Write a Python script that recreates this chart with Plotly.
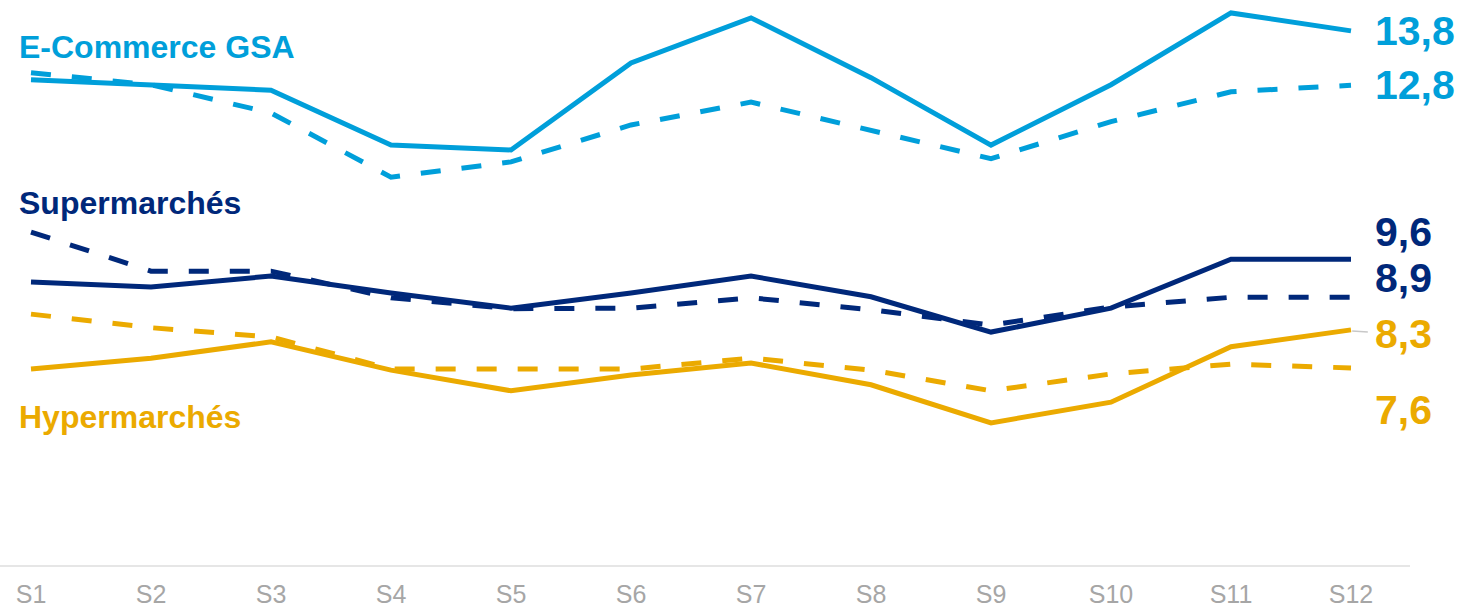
import plotly.graph_objects as go

weeks = ["S1", "S2", "S3", "S4", "S5", "S6", "S7", "S8", "S9", "S10", "S11", "S12"]

ecom_solid = [12.90, 12.81, 12.71, 11.70, 11.61, 13.21, 14.04, 12.94, 11.70, 12.81, 14.13, 13.80]
ecom_dash = [13.03, 12.81, 12.29, 11.11, 11.39, 12.07, 12.49, 11.98, 11.45, 12.13, 12.68, 12.80]
super_solid = [9.18, 9.09, 9.29, 8.98, 8.70, 8.98, 9.29, 8.91, 8.26, 8.70, 9.60, 9.60]
super_dash = [10.10, 9.38, 9.38, 8.89, 8.69, 8.70, 8.89, 8.67, 8.39, 8.72, 8.90, 8.90]
hyper_solid = [7.58, 7.78, 8.08, 7.56, 7.18, 7.47, 7.69, 7.29, 6.59, 6.97, 7.99, 8.30]
hyper_dash = [8.59, 8.34, 8.17, 7.58, 7.58, 7.58, 7.78, 7.56, 7.18, 7.49, 7.67, 7.60]

series_names = ["E-Commerce GSA", "Supermarchés", "Hypermarchés"]

BLUE = "#009fda"
NAVY = "#00287a"
GOLD = "#ebaa00"
FONT = "Liberation Sans, Arial, sans-serif"

W, H = 1460, 609
ML, MR, MT, MB = 0, 50, 1, 44

x = list(range(len(weeks)))
fig = go.Figure()

traces = [
    (ecom_dash, BLUE, "20px,21px", series_names[0] + " (pointillé)"),
    (ecom_solid, BLUE, "solid", series_names[0]),
    (super_dash, NAVY, "20px,21px", series_names[1] + " (pointillé)"),
    (super_solid, NAVY, "solid", series_names[1]),
    (hyper_dash, GOLD, "20px,21px", series_names[2] + " (pointillé)"),
    (hyper_solid, GOLD, "solid", series_names[2]),
]
for vals, col, dash, name in traces:
    fig.add_trace(go.Scatter(
        x=x, y=vals, mode="lines", name=name,
        line=dict(color=col, width=5, dash=dash),
        hoverinfo="skip", showlegend=False,
    ))

annotations = []
plot_h = H - MT - MB
plot_w = W - ML - MR
name_pos = [(series_names[0], BLUE, 47), (series_names[1], NAVY, 203), (series_names[2], GOLD, 417)]
for txt, col, yc in name_pos:
    annotations.append(dict(
        text=f"<b>{txt}</b>", xref="paper", yref="paper",
        x=17 / plot_w, y=(H - MB - yc) / plot_h,
        xanchor="left", yanchor="middle", showarrow=False,
        font=dict(family=FONT, size=32, color=col),
    ))

def fmt(v):
    return f"{v:.1f}".replace(".", ",")

end_labels = [
    (ecom_solid[-1], BLUE, 0),
    (ecom_dash[-1], BLUE, 0),
    (super_solid[-1], NAVY, 27),
    (super_dash[-1], NAVY, 19),
    (hyper_solid[-1], GOLD, -4),
    (hyper_dash[-1], GOLD, -42),
]
for v, col, ys in end_labels:
    annotations.append(dict(
        text=f"<b>{fmt(v)}</b>", xref="paper", yref="y",
        x=1373 / plot_w, y=v, yshift=ys,
        xanchor="left", yanchor="middle", showarrow=False,
        font=dict(family=FONT, size=41, color=col),
    ))

fig.update_layout(
    width=W, height=H,
    margin=dict(l=ML, r=MR, t=MT, b=MB, pad=0, autoexpand=False),
    paper_bgcolor="white", plot_bgcolor="white",
    annotations=annotations,
    shapes=[dict(
        type="line", xref="x", yref="y",
        x0=11.01, x1=11.14, y0=hyper_solid[-1] - 0.02, y1=hyper_solid[-1] - 0.04,
        line=dict(color="#c8c8c8", width=1.5),
    )],
    font=dict(family=FONT),
)
fig.update_xaxes(
    automargin=False,
    range=[-31 / 120, (plot_w - 31) / 120],
    tickmode="array", tickvals=x, ticktext=weeks,
    showgrid=False, zeroline=False,
    showline=True, linecolor="#e6e6e6", linewidth=2,
    ticks="outside", ticklen=6, tickcolor="rgba(0,0,0,0)",
    tickfont=dict(family=FONT, size=25, color="#a6a6a6"),
)
fig.update_yaxes(
    automargin=False,
    range=[3.975, 14.35], visible=False, showgrid=False, zeroline=False,
)

fig.write_html("out.html", config={"displayModeBar": False},
               post_script="document.body.style.margin='0';")
